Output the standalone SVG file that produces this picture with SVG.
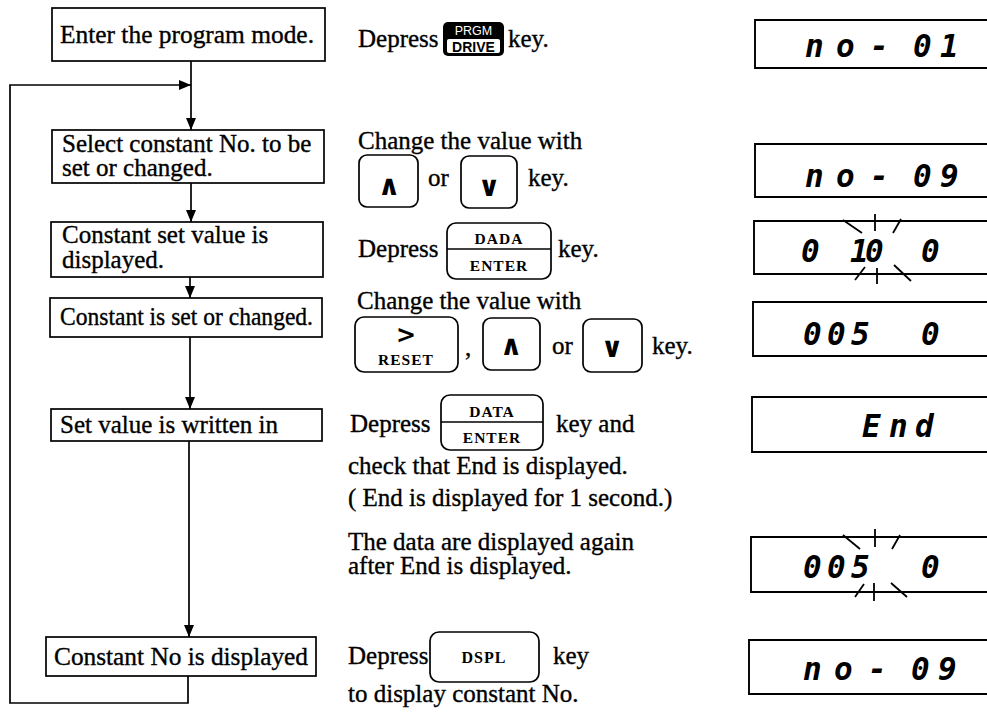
<svg xmlns="http://www.w3.org/2000/svg" width="987" height="718" viewBox="0 0 987 718">
<style>
.box{fill:#fff;stroke:#000;stroke-width:1.7}
.t{font-family:"Liberation Serif","Times New Roman",serif;font-size:25px;fill:#000;stroke:#000;stroke-width:0.35}
.key{fill:#fff;stroke:#000;stroke-width:1.7}
.kl{font-family:"Liberation Serif","Times New Roman",serif;font-size:15.5px;font-weight:bold;fill:#000;text-anchor:middle;letter-spacing:1px}
.sym{font-family:"DejaVu Sans",sans-serif;font-size:28px;font-weight:bold;fill:#000;text-anchor:middle}
.disp{fill:none;stroke:#000;stroke-width:1.9}
.seg{font-family:"DejaVu Sans Mono",monospace;font-size:31px;font-weight:bold;font-style:italic;fill:#000}
.ray{stroke:#000;stroke-width:1.8;fill:none}
.ln{stroke:#000;stroke-width:1.7;fill:none}
</style>
<defs>
<marker id="ah" markerWidth="12" markerHeight="12" viewBox="0 0 12 12" refX="12" refY="6" orient="auto" markerUnits="userSpaceOnUse">
<path d="M0,1 L12,6 L0,11 Z" fill="#000"/>
</marker>
</defs>

<g id="connectors">
<line class="ln" x1="191" y1="61" x2="191" y2="130" marker-end="url(#ah)"/>
<path class="ln" d="M188,676 V703 H10 V85 H191" marker-end="url(#ah)"/>
<line class="ln" x1="191" y1="183" x2="191" y2="222" marker-end="url(#ah)"/>
<line class="ln" x1="190" y1="277" x2="190" y2="298" marker-end="url(#ah)"/>
<line class="ln" x1="190" y1="337" x2="190" y2="409" marker-end="url(#ah)"/>
<line class="ln" x1="189" y1="441" x2="189" y2="637" marker-end="url(#ah)"/>
</g>

<g id="n1"><rect class="box" x="52" y="8" width="273" height="53"/><text class="t" x="60" y="43" textLength="254" lengthAdjust="spacingAndGlyphs">Enter the program mode.</text></g>
<g id="n2"><rect class="box" x="52" y="130" width="272" height="53"/><text class="t" x="62" y="152">Select constant No. to be</text><text class="t" x="62" y="176">set or changed.</text></g>
<g id="n3"><rect class="box" x="51" y="222" width="272" height="55"/><text class="t" x="62" y="243">Constant set value is</text><text class="t" x="62" y="268">displayed.</text></g>
<g id="n4"><rect class="box" x="50" y="298" width="272" height="39"/><text class="t" x="60" y="325" textLength="253" lengthAdjust="spacingAndGlyphs">Constant is set or changed.</text></g>
<g id="n5"><rect class="box" x="51" y="409" width="271" height="32"/><text class="t" x="60" y="433">Set value is written in</text></g>
<g id="n6"><rect class="box" x="46" y="637" width="270" height="39"/><text class="t" x="54" y="665" textLength="254" lengthAdjust="spacingAndGlyphs">Constant No  is displayed</text></g>

<g id="step1">
<text class="t" x="358" y="47">Depress</text>
<rect x="443" y="22" width="61" height="34" rx="5" fill="#000"/>
<rect x="447" y="39" width="53" height="14" rx="2" fill="#fff"/>
<text x="473.5" y="35" font-family="Liberation Sans, Arial, sans-serif" font-size="12.5" fill="#fff" text-anchor="middle">PRGM</text>
<text x="473.5" y="51.5" font-family="Liberation Sans, Arial, sans-serif" font-size="14" font-weight="bold" fill="#000" text-anchor="middle">DRIVE</text>
<text class="t" x="508" y="47">key.</text>
</g>

<g id="step2">
<text class="t" x="358" y="149">Change the value with</text>
<rect class="key" x="359" y="155" width="59" height="52" rx="8"/>
<text class="sym" x="389" y="195">∧</text>
<text class="t" x="428" y="186">or</text>
<rect class="key" x="461" y="156" width="56" height="52" rx="8"/>
<text class="sym" x="489" y="196">∨</text>
<text class="t" x="528" y="186">key.</text>
</g>

<g id="step3">
<text class="t" x="358" y="257">Depress</text>
<rect class="key" x="447" y="223" width="104" height="56" rx="9"/>
<line class="ln" x1="447" y1="249" x2="551" y2="249"/>
<text class="kl" x="499" y="244">DADA</text>
<text class="kl" x="499" y="271">ENTER</text>
<text class="t" x="558" y="257">key.</text>
</g>

<g id="step4">
<text class="t" x="357" y="309">Change the value with</text>
<rect class="key" x="355" y="317" width="103" height="55" rx="9"/>
<text x="406" y="343" font-family="DejaVu Sans, sans-serif" font-size="24" font-weight="bold" fill="#000" text-anchor="middle">&gt;</text>
<text class="kl" x="406" y="365">RESET</text>
<text class="t" x="465" y="356">,</text>
<rect class="key" x="483" y="318" width="57" height="52" rx="8"/>
<text class="sym" x="511" y="355">∧</text>
<text class="t" x="552" y="354">or</text>
<rect class="key" x="583" y="319" width="59" height="53" rx="8"/>
<text class="sym" x="612" y="357">∨</text>
<text class="t" x="652" y="354">key.</text>
</g>

<g id="step5">
<text class="t" x="350" y="432">Depress</text>
<rect class="key" x="441" y="395" width="102" height="55" rx="9"/>
<line class="ln" x1="441" y1="422" x2="543" y2="422"/>
<text class="kl" x="492" y="417">DATA</text>
<text class="kl" x="492" y="443">ENTER</text>
<text class="t" x="556" y="432">key and</text>
<text class="t" x="348" y="474">check that End is displayed.</text>
<text class="t" x="348" y="506">( End is displayed for 1 second.)</text>
</g>

<g id="step6">
<text class="t" x="348" y="550">The data are displayed again</text>
<text class="t" x="348" y="574">after End is displayed.</text>
</g>

<g id="step7">
<text class="t" x="348" y="664">Depress</text>
<rect class="key" x="430" y="632" width="109" height="50" rx="9"/>
<text class="kl" x="484" y="663" style="font-size:16px">DSPL</text>
<text class="t" x="553" y="664">key</text>
<text class="t" x="348" y="702">to display constant No.</text>
</g>

<g id="d1"><path class="disp" d="M987,20 H755 V68 H987"/><text class="seg" x="805 836 870 890 913 940" y="57">no- 01</text></g>
<g id="d2"><path class="disp" d="M987,144 H755 V197 H987"/><text class="seg" x="805 836 870 890 913 940" y="187">no- 09</text></g>
<g id="d3"><path class="disp" d="M987,221 H754 V274 H987"/><text class="seg" x="801 825 850 865 900 921" y="262">0 10 0</text>
<path class="ray" d="M843,220 L862,233 M875,214 V231 M901,219 L893,233 M865,267 L855,280 M877,268 V284 M894,265 L911,281"/></g>
<g id="d4"><path class="disp" d="M987,302 H753 V356 H987"/><text class="seg" x="803 827 851 890 921" y="345">005 0</text></g>
<g id="d5"><path class="disp" d="M987,397 H752 V452 H987"/><text class="seg" x="862 889 915" y="437">End</text></g>
<g id="d6"><path class="disp" d="M987,537 H751 V592 H987"/><text class="seg" x="803 827 851 890 921" y="578">005 0</text>
<path class="ray" d="M843,535 L860,549 M875,529 V547 M900,535 L892,549 M855,597 L864,584 M874,583 V601 M891,583 L907,597"/></g>
<g id="d7"><path class="disp" d="M987,640 H749 V694 H987"/><text class="seg" x="803 834 868 888 911 938" y="680">no- 09</text></g>
</svg>
